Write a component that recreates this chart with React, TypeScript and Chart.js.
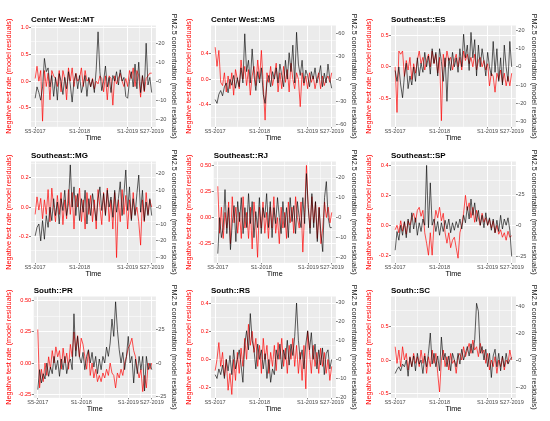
import React, { useEffect, useRef } from "react";
import { Chart, registerables } from "chart.js";

Chart.register(...registerables);

// ---------- data ----------
const WEEKS = [
  0, 2, 4, 6, 8, 10, 12, 14,
  16, 18, 20, 22, 24, 26, 28, 30,
  32, 34, 36, 38, 40, 42, 44, 46,
  48, 50, 52, 54, 56, 58, 60, 62,
  64, 66, 68, 70, 72, 74, 76, 78,
  80, 82, 84, 86, 88, 90, 92, 94,
  96, 98, 100, 102, 104, 106, 108, 110,
  112, 114, 116, 118, 120, 122, 124, 126,
];
const X_TICKS = [0, 48, 100, 126];
const X_TICK_LABELS = ["S5-2017", "S1-2018", "S1-2019", "S27-2019"];
const X_MINOR = [24, 74, 113];
const X_LIMITS = [-4.5, 130.5];

const PANEL_TITLES = [
  "Center West::MT", "Center West::MS", "Southeast::ES",
  "Southeast::MG", "Southeast::RJ", "Southeast::SP",
  "South::PR", "South::RS", "South::SC",
];

// Negative test rate residuals (left axis)
const MT_NEG = [
  0.05, 0.28, 0.0, 0.2, -0.75, 0.2, -0.1, 0.15,
  -0.35, 0.2, 0.1, 0.05, -0.1, 0.2, -0.2, 0.2,
  0.05, -0.35, 0.25, 0.0, 0.25, -0.1, 0.15, 0.0,
  0.05, 0.25, -0.1, 0.2, 0.0, 0.05, -0.1, 0.05,
  -0.15, 0.0, -0.05, 0.1, 0.05, -0.2, 0.1, -0.35,
  0.1, 0.05, -0.45, 0.1, -0.05, 0.05, 0.15, 0.0,
  -0.1, 0.05, -0.1, 0.2, 0.05, 0.25, -0.1, 0.2,
  0.1, -0.3, 0.1, -0.2, 0.05, 0.1, 0.15, 0.15,
];
const MS_NEG = [
  0.5, 0.2, 0.45, -0.05, -0.1, 0.1, -0.2, 0.05,
  -0.15, 0.1, -0.25, 0.15, 0.0, -0.15, 0.3, 0.0,
  0.2, -0.1, 0.15, -0.25, 0.05, 0.2, -0.1, 0.3,
  0.0, 0.45, -0.1, -0.64, 0.1, -0.05, 0.2, -0.1,
  0.05, 0.25, -0.2, 0.1, -0.15, 0.2, -0.05, 0.15,
  -0.2, 0.25, 0.0, -0.15, 0.1, 0.0, -0.43, 0.1,
  -0.1, 0.05, -0.15, 0.1, -0.05, 0.05, -0.15, 0.0,
  0.1, -0.15, 0.05, -0.1, 0.0, 0.05, -0.05, 0.1,
];
const ES_NEG = [
  0.0, -0.72, 0.25, 0.2, 0.25, -0.15, 0.1, -0.05,
  0.15, -0.2, 0.05, -0.1, 0.1, 0.25, 0.05, 0.15,
  -0.05, 0.1, 0.2, 0.0, 0.25, 0.05, 0.2, -0.1,
  0.15, -0.85, 0.2, 0.0, 0.25, 0.1, 0.15, -0.05,
  0.1, 0.2, 0.0, 0.15, -0.05, 0.25, 0.1, 0.2,
  0.05, 0.15, 0.0, 0.2, -0.05, 0.1, 0.15, 0.0,
  0.1, -0.05, 0.05, -0.3, -0.1, -0.15, -0.4, -0.1,
  -0.2, -0.05, -0.25, -0.1, -0.3, -0.15, -0.3, -0.1,
];
const MG_NEG = [
  -0.05, 0.07, -0.02, 0.06, -0.08, 0.05, -0.05, 0.12,
  -0.1, 0.13, 0.0, -0.1, 0.08, -0.05, 0.1, -0.12,
  0.05, -0.08, 0.12, -0.05, 0.1, -0.15, 0.08, 0.0,
  0.13, -0.1, 0.05, -0.15, 0.1, -0.05, 0.08, -0.1,
  0.05, -0.15, 0.12, 0.0, -0.12, 0.1, -0.05, 0.13,
  -0.1, 0.05, -0.15, 0.1, -0.345, 0.05, -0.1, 0.12,
  -0.05, 0.08, -0.15, 0.05, -0.08, 0.1, -0.05, 0.0,
  -0.1, -0.26, 0.05, -0.1, 0.1, -0.05, 0.05, 0.0,
];
const RJ_NEG = [
  0.3, -0.15, 0.1, -0.2, 0.05, -0.1, 0.15, -0.25,
  0.2, -0.05, 0.1, -0.15, 0.05, -0.2, 0.2, -0.1,
  0.05, -0.2, 0.1, -0.3, 0.15, -0.05, -0.38, 0.1,
  -0.1, 0.15, -0.15, 0.05, -0.2, 0.1, -0.1, 0.2,
  -0.15, 0.0, -0.25, 0.1, -0.1, 0.05, -0.2, 0.15,
  -0.05, 0.1, -0.15, 0.2, 0.0, -0.1, 0.15, -0.33,
  0.05, 0.5, 0.1, -0.1, 0.2, -0.05, 0.15, -0.2,
  0.1, -0.25, -0.1, 0.15, 0.0, 0.1, -0.05, 0.05,
];
const SP_NEG = [
  -0.03, 0.0, -0.05, 0.03, -0.04, 0.02, -0.06, 0.03,
  0.0, 0.05, 0.08, 0.02, 0.1, 0.12, 0.06, 0.1,
  -0.05, -0.12, -0.2, -0.05, -0.2, 0.0, 0.1, 0.05,
  0.12, 0.03, 0.08, -0.05, -0.12, -0.05, -0.15, -0.1,
  -0.08, -0.15, -0.22, -0.05, 0.0, 0.08, 0.2, 0.1,
  0.15, 0.05, 0.12, 0.02, 0.1, 0.05, 0.0, 0.08,
  0.02, 0.05, 0.0, 0.04, -0.02, 0.03, -0.05, 0.0,
  -0.06, -0.03, -0.08, -0.05, -0.1, -0.04, -0.08, -0.07,
];
const PR_NEG = [
  0.27, -0.2, -0.05, -0.15, 0.0, -0.1, 0.05, -0.05,
  0.1, 0.0, 0.13, 0.05, 0.1, -0.05, 0.12, 0.0,
  0.08, -0.05, 0.15, 0.05, 0.25, 0.1, 0.22, 0.05,
  0.2, 0.15, 0.05, -0.05, 0.1, -0.1, 0.0, -0.12,
  -0.05, -0.15, -0.1, -0.15, -0.08, -0.12, -0.05, -0.1,
  0.0, -0.08, -0.1, -0.2, -0.08, -0.12, -0.05, -0.1,
  0.0, 0.05, 0.12, 0.15, 0.2, 0.1, 0.05, -0.05,
  -0.12, -0.05, -0.23, -0.1, -0.2, 0.0, -0.05, 0.0,
];
const RS_NEG = [
  -0.08, 0.0, 0.12, -0.05, 0.05, -0.12, 0.0, -0.22,
  -0.1, -0.25, 0.0, -0.15, 0.05, -0.1, 0.08, -0.05,
  0.15, 0.0, 0.25, 0.1, 0.2, 0.05, 0.15, -0.05,
  0.1, -0.1, 0.15, 0.0, 0.1, -0.1, 0.05, -0.05,
  0.1, -0.08, 0.12, 0.0, 0.15, -0.05, 0.08, -0.1,
  0.1, 0.0, 0.15, -0.05, 0.1, -0.1, 0.05, -0.15,
  0.1, -0.21, 0.2, 0.05, -0.1, 0.1, -0.05, 0.05,
  -0.1, 0.08, -0.05, 0.05, -0.1, 0.0, -0.15, -0.05,
];
const SC_NEG = [
  0.2, -0.05, 0.15, -0.1, 0.2, 0.0, 0.1, -0.15,
  0.05, -0.1, 0.1, -0.05, 0.05, -0.1, 0.15, -0.05,
  0.1, -0.2, 0.05, -0.1, 0.15, -0.05, 0.1, -0.2,
  -0.48, 0.0, 0.15, -0.1, 0.05, -0.15, 0.1, -0.05,
  0.0, -0.2, 0.05, 0.1, 0.0, 0.2, 0.05, 0.15,
  0.25, 0.1, 0.3, 0.15, 0.2, 0.05, 0.25, 0.1,
  0.15, -0.05, 0.1, -0.15, 0.0, -0.1, 0.05, -0.2,
  0.0, -0.1, 0.05, -0.15, 0.0, -0.05, 0.15, 0.0,
];

// PM2.5 concentration residuals (right axis)
const MT_PM = [
  -9, -3, -6, -10, -3, 12, 5, 7,
  -3, 3, -8, 2, -10, 4, 0, -7,
  2, -4, 5, -2, -11, 0, 4, -4,
  3, -6, -2, 3, -8, 2, -3, 1,
  -6, 6, 26, 5, -5, 0, 8, -3,
  2, -6, 3, 0, 5, -2, 6, 0,
  2, -8, -9, 0, 5, -3, 9, -4,
  10, -6, 3, -5, 20, -2, 2, -6,
];
const MS_PM = [
  -27, -32, -20, -15, -22, -10, -5, -18,
  0, -8, 5, -12, 2, -10, 15, -5,
  60, 10, 25, -5, 40, 5, -15, 10,
  -5, 15, -20, -32, -5, 5, -10, 10,
  0, 15, -5, 20, 5, -10, 25, 0,
  35, 10, 45, -5, 62, 20, 5, 25,
  -5, 12, 5, -10, 10, 0, 15, -5,
  5, 18, -10, 8, -5, 20, 0, -12,
];
const ES_PM = [
  -2, -8, 0, -10, -17, -5, 2, -12,
  -5, -10, 0, -8, 5, -5, 2, -3,
  8, 0, 6, -4, 10, 2, 8, -5,
  10, 3, -8, 5, -19, 5, -2, 8,
  0, 5, -3, 10, 0, 18, 5, 12,
  -2, 19, 5, 15, -5, 12, 0, 10,
  3, -5, 8, 0, -5, 14, -3, 10,
  -8, 5, -10, 12, 0, -8, 14, 0,
];
const MG_PM = [
  -17, -12, -10, -20, -8, -19, -5, -12,
  0, -8, 5, -5, 3, -10, 5, -2,
  10, -5, 2, 25, 0, 12, -5, 8,
  -8, 5, -3, 10, -10, 5, -5, 8,
  0, -8, 5, 12, -2, 8, -5, 10,
  0, 6, -6, 10, -3, 5, 15, -5,
  8, 22, -2, 12, -8, 5, -5, 8,
  19, -3, 10, -8, 3, -5, 5, -5,
];
const RJ_PM = [
  -18, 0, -10, -5, 14, -8, 5, -16,
  -3, 6, -12, 8, -2, 10, -8, 5,
  -5, 12, -3, 8, -10, 3, -5, 10,
  -8, 5, 0, 12, -5, 8, -10, 5,
  -3, 10, 0, -8, 8, -5, 5, -10,
  10, -2, 6, -8, 8, 0, -5, 10,
  -3, 22, 5, -8, 12, -5, 8, -12,
  5, -8, -17, 10, 18, 0, -5, -5,
];
const SP_PM = [
  -20, -5, -12, 0, -8, 3, -10, 5,
  -6, 10, -3, 6, -8, 2, -5, 5,
  0, 48, -2, 34, 0, 5, -5, 3,
  -8, 2, -5, 4, -3, 5, -6, 2,
  -4, 3, -2, 5, -3, 8, 2, 15,
  5, 21, 8, 18, 3, 12, 0, 8,
  -2, 10, 0, 6, -4, 5, -6, 4,
  -5, 8, -3, 5, 0, 6, -4, -25,
];
const PR_PM = [
  -20, -5, -15, -8, -12, 0, -10, -3,
  -8, 5, -5, 2, -10, 3, -5, 5,
  -8, 0, 3, -5, 37, 5, 20, 5,
  0, 8, -5, 5, 10, 0, 8, -3,
  5, -8, 3, -5, 5, 0, 12, 5,
  15, 33, 20, 46, 25, 10, 0, 8,
  -5, 5, 20, 0, 5, -15, 3, -8,
  5, -5, 5, -21, 5, -5, 0, -5,
];
const RS_PM = [
  -8, -10, -5, -8, -3, -10, 0, -6,
  2, -8, 5, -5, 0, 5, -3, -12,
  8, 15, 5, 24, 10, 5, -5, 8,
  0, 5, -5, 3, -10, 0, -12, -5,
  -8, 5, 0, 8, -5, 5, 0, 10,
  -3, 8, 2, 12, 29.5, 10, 0, 5,
  -5, 8, 15, 5, 14, 0, 8, -5,
  5, -3, 6, -8, 3, 5, -5, 0,
];
const SC_PM = [
  -10, -7, -5, -8, -3, -5, 0, -12,
  2, -5, 3, -8, 5, -3, 0, -10,
  3, -5, 5, 20, -3, 5, -5, 3,
  -8, 17, 0, 5, -5, 3, -8, 5,
  0, -5, 5, -3, 8, 0, 5, 10,
  3, 12, 5, 15, 42, 36, 5, 10,
  0, 8, -5, 5, -13, 3, 8, -5,
  5, -8, 3, -5, 5, -3, 0, 2,
];

const NEG_SERIES = [MT_NEG, MS_NEG, ES_NEG, MG_NEG, RJ_NEG, SP_NEG, PR_NEG, RS_NEG, SC_NEG];
const PM_SERIES = [MT_PM, MS_PM, ES_PM, MG_PM, RJ_PM, SP_PM, PR_PM, RS_PM, SC_PM];

const LEFT_TICKS = [
  [-0.5, 0, 0.5, 1.0],
  [-0.4, 0, 0.4],
  [-0.5, 0, 0.5],
  [-0.2, 0, 0.2],
  [-0.25, 0, 0.25, 0.5],
  [-0.2, 0, 0.2, 0.4],
  [-0.25, 0, 0.25, 0.5],
  [-0.2, 0, 0.2, 0.4],
  [-0.5, 0, 0.5],
];
const LEFT_DECIMALS = [1, 1, 1, 1, 2, 1, 2, 1, 1];
const LEFT_LIMITS = [
  [-0.856, 1.044],
  [-0.745, 0.839],
  [-0.947, 0.653],
  [-0.381, 0.312],
  [-0.433, 0.537],
  [-0.251, 0.426],
  [-0.28, 0.535],
  [-0.274, 0.448],
  [-0.568, 0.954],
];
const RIGHT_TICKS = [
  [-20, -10, 0, 10, 20],
  [-60, -30, 0, 30, 60],
  [-30, -20, -10, 0, 10, 20],
  [-30, -20, -10, 0, 10, 20],
  [-20, -10, 0, 10, 20],
  [-25, 0, 25],
  [-25, 0, 25],
  [-20, -10, 0, 10, 20, 30],
  [-20, 0, 20, 40],
];
// secondary axis = factor * primary axis
const RIGHT_FACTOR = [28.1, 84.6, 34.9, 86.6, 52.2, 120, 93.4, 73.5, 49.3];

// ---------- styling ----------
const FONT = "'Liberation Sans', Arial, Helvetica, sans-serif";
const TICK_GREY = "#4D4D4D";
const PANEL_W = 180;
const PANEL_H = 144;
const ROW_PITCH = 135.5;

const panelBg = {
  id: "panelBg",
  beforeDraw(chart: any) {
    const { ctx, chartArea: a } = chart;
    ctx.save();
    ctx.fillStyle = "#EBEBEB";
    ctx.fillRect(a.left, a.top, a.right - a.left, a.bottom - a.top);
    ctx.restore();
  },
};

function minorOf(major: number[], min: number, max: number) {
  const step = major[1] - major[0];
  const out: number[] = [];
  for (let k = -1; k < major.length + 1; k++) {
    const v = major[0] + step * k + step / 2;
    if (v > min && v < max) out.push(v);
  }
  return out;
}

function Panel({ i }: { i: number }) {
  const ref = useRef<HTMLCanvasElement | null>(null);
  useEffect(() => {
    const [lmin, lmax] = LEFT_LIMITS[i];
    const f = RIGHT_FACTOR[i];
    const dec = LEFT_DECIMALS[i];
    const chart = new Chart(ref.current as HTMLCanvasElement, {
      type: "line",
      data: {
        datasets: [
          {
            label: "PM2.5",
            data: WEEKS.map((w, k) => ({ x: w, y: PM_SERIES[i][k] })),
            yAxisID: "y2",
            xAxisID: "x",
            borderColor: "rgba(0,0,0,0.78)",
            borderWidth: 0.8,
            pointRadius: 0,
            tension: 0,
          },
          {
            label: "Negative",
            data: WEEKS.map((w, k) => ({ x: w, y: NEG_SERIES[i][k] })),
            yAxisID: "y",
            xAxisID: "x",
            borderColor: "rgba(255,0,0,0.85)",
            borderWidth: 0.8,
            pointRadius: 0,
            tension: 0,
          },
        ],
      } as any,
      options: {
        responsive: false,
        animation: false,
        events: [],
        layout: { padding: { left: 4.7, right: 1.3, top: 0, bottom: 0 } },
        plugins: {
          legend: { display: false },
          tooltip: { enabled: false },
          title: {
            display: true,
            text: PANEL_TITLES[i],
            align: "start",
            fullSize: false,
            color: "#000000",
            font: { family: FONT, size: 8, weight: "bold", lineHeight: 1.2 },
            padding: { top: 14.5, bottom: 1.4 },
          },
        },
        scales: {
          x: {
            type: "linear",
            position: "bottom",
            min: X_LIMITS[0],
            max: X_LIMITS[1],
            bounds: "data",
            afterBuildTicks: (s: any) => {
              s.ticks = X_TICKS.map((v) => ({ value: v }));
            },
            ticks: {
              autoSkip: false,
              maxRotation: 0,
              minRotation: 0,
              padding: 0,
              color: TICK_GREY,
              font: { family: FONT, size: 5.6, lineHeight: 1 },
              callback: (_v: any, idx: number) => X_TICK_LABELS[idx],
            },
            grid: { color: "#FFFFFF", lineWidth: 1, tickColor: "#333333", tickLength: 1.5, tickWidth: 0.6 },
            border: { display: false },
            title: {
              display: true,
              text: "Time",
              color: "#000000",
              font: { family: FONT, size: 7.3, lineHeight: 1.2 },
              padding: { top: 0, bottom: 1.3 },
            },
          },
          xMinor: {
            type: "linear",
            position: "bottom",
            min: X_LIMITS[0],
            max: X_LIMITS[1],
            bounds: "data",
            afterBuildTicks: (s: any) => {
              s.ticks = X_MINOR.map((v) => ({ value: v }));
            },
            ticks: { display: false },
            grid: { color: "#FFFFFF", lineWidth: 0.5, drawTicks: false },
            border: { display: false },
          },
          y: {
            type: "linear",
            position: "left",
            min: lmin,
            max: lmax,
            bounds: "data",
            afterBuildTicks: (s: any) => {
              s.ticks = LEFT_TICKS[i].map((v) => ({ value: v }));
            },
            ticks: {
              padding: 0.5,
              color: "#FF0000",
              font: { family: FONT, size: 5.6, lineHeight: 1.2 },
              callback: (v: any) => Number(v).toFixed(dec),
            },
            grid: { color: "#FFFFFF", lineWidth: 1, tickColor: "#333333", tickLength: 2, tickWidth: 0.6 },
            border: { display: false },
            title: {
              display: true,
              text: "Negative test rate (model residuals)",
              color: "#FF0000",
              font: { family: FONT, size: 7.3, lineHeight: 1.2 },
              padding: { top: 0, bottom: 4.9 },
            },
          },
          yMinor: {
            type: "linear",
            position: "left",
            min: lmin,
            max: lmax,
            bounds: "data",
            afterBuildTicks: (s: any) => {
              s.ticks = minorOf(LEFT_TICKS[i], lmin, lmax).map((v) => ({ value: v }));
            },
            ticks: { display: false },
            grid: { color: "#FFFFFF", lineWidth: 0.5, drawTicks: false },
            border: { display: false },
          },
          y2: {
            type: "linear",
            position: "right",
            min: lmin * f,
            max: lmax * f,
            bounds: "data",
            afterBuildTicks: (s: any) => {
              s.ticks = RIGHT_TICKS[i].map((v) => ({ value: v }));
            },
            ticks: {
              padding: 0.5,
              color: TICK_GREY,
              font: { family: FONT, size: 5.6, lineHeight: 1.2 },
              callback: (v: any) => String(v),
            },
            grid: { drawOnChartArea: false, tickColor: "#333333", tickLength: 2, tickWidth: 0.6 },
            border: { display: false },
            title: {
              display: true,
              text: "PM2.5 concentration (model residuals)",
              color: "#1A1A1A",
              font: { family: FONT, size: 7.3, lineHeight: 1.2 },
              padding: { top: 0, bottom: 3 },
            },
          },
        },
      } as any,
      plugins: [panelBg],
    });
    return () => chart.destroy();
  }, [i]);

  const col = i % 3;
  const row = Math.floor(i / 3);
  return (
    <canvas
      ref={ref}
      width={PANEL_W}
      height={PANEL_H}
      style={{
        position: "absolute",
        left: col * PANEL_W,
        top: Math.round(row * ROW_PITCH),
        width: PANEL_W,
        height: PANEL_H,
      }}
    />
  );
}

export default function App() {
  return (
    <div
      style={{
        position: "absolute",
        left: 0,
        top: 0,
        width: 550,
        height: 421,
        background: "#FFFFFF",
        overflow: "hidden",
      }}
    >
      {PANEL_TITLES.map((_, i) => (
        <Panel key={i} i={i} />
      ))}
    </div>
  );
}
